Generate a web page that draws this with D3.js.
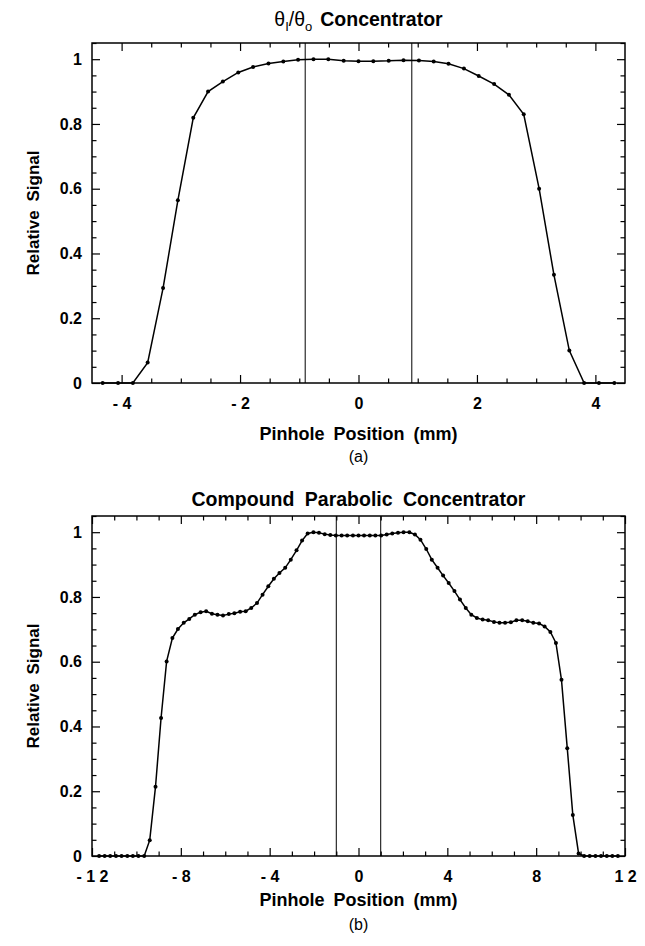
<!DOCTYPE html>
<html>
<head>
<meta charset="utf-8">
<script src="https://cdn.jsdelivr.net/npm/d3@7"></script>
<style>
  body { margin: 0; background: #fff; }
  svg { display: block; font-family: "Liberation Sans", Arial, Helvetica, sans-serif; }
  .tick text { font-weight: bold; white-space: pre; fill: #000; }
  .tick line { stroke: #000; stroke-width: 1.2; }
  .label { font-weight: bold; fill: #000; }
</style>
</head>
<body>
<div id="chart"></div>
<script>
// ---- (a) theta_i / theta_o concentrator ----
const concX = [-4.32, -4.06, -3.81, -3.56, -3.30, -3.05, -2.79, -2.54, -2.29, -2.03, -1.78, -1.52,
  -1.27, -1.02, -0.76, -0.51, -0.25, 0, 0.25, 0.51, 0.76, 1.02, 1.27, 1.52, 1.78, 2.03, 2.29,
  2.54, 2.79, 3.05, 3.30, 3.56, 3.81, 4.06, 4.32];
const concSignal = [0, 0, 0, 0.063, 0.293, 0.564, 0.819, 0.900, 0.931, 0.959, 0.976, 0.987,
  0.993, 0.998, 1.000, 1.000, 0.995, 0.994, 0.994, 0.995, 0.997, 0.996, 0.993, 0.986, 0.971,
  0.948, 0.923, 0.890, 0.830, 0.600, 0.334, 0.100, 0, 0, 0];
const concMarkers = [-0.9, 0.9];
const concMajorX = [-4, -2, 0, 2, 4];
const concMajorXLabels = ['- 4', '- 2', '0', '2', '4'];
const concMinorX = [-3.5, -3, -2.5, -1.5, -1, -0.5, 0.5, 1, 1.5, 2.5, 3, 3.5];

// ---- (b) compound parabolic concentrator ----
const cpcX = [-11.68, -11.43, -11.18, -10.92, -10.67, -10.41, -10.16, -9.91, -9.65, -9.40, -9.14,
  -8.89, -8.64, -8.38, -8.13, -7.87, -7.62, -7.37, -7.11, -6.86, -6.60, -6.35, -6.10, -5.84,
  -5.59, -5.33, -5.08, -4.83, -4.57, -4.32, -4.06, -3.81, -3.56, -3.30, -3.05, -2.79, -2.54,
  -2.29, -2.03, -1.78, -1.52, -1.27, -1.02, -0.76, -0.51, -0.25, 0, 0.25, 0.51, 0.76, 1.02,
  1.27, 1.52, 1.78, 2.03, 2.29, 2.54, 2.79, 3.05, 3.30, 3.56, 3.81, 4.06, 4.32, 4.57, 4.83,
  5.08, 5.33, 5.59, 5.84, 6.10, 6.35, 6.60, 6.86, 7.11, 7.37, 7.62, 7.87, 8.13, 8.38, 8.64,
  8.89, 9.14, 9.40, 9.65, 9.91, 10.16, 10.41, 10.67, 10.92, 11.18, 11.43, 11.68];
const cpcSignal = [0, 0, 0, 0, 0, 0, 0, 0, 0, 0.049, 0.214, 0.426, 0.601, 0.673, 0.701, 0.720,
  0.732, 0.745, 0.753, 0.756, 0.748, 0.745, 0.743, 0.747, 0.750, 0.754, 0.756, 0.766, 0.781,
  0.807, 0.833, 0.856, 0.874, 0.890, 0.915, 0.944, 0.974, 0.996, 1.000, 0.998, 0.994, 0.991,
  0.990, 0.990, 0.990, 0.990, 0.990, 0.990, 0.990, 0.990, 0.990, 0.993, 0.996, 0.998, 1.000,
  1.000, 0.993, 0.977, 0.948, 0.915, 0.890, 0.866, 0.843, 0.818, 0.792, 0.766, 0.745, 0.735,
  0.730, 0.728, 0.723, 0.720, 0.720, 0.722, 0.728, 0.728, 0.725, 0.720, 0.718, 0.709, 0.692,
  0.658, 0.544, 0.333, 0.127, 0.008, 0, 0, 0, 0, 0, 0, 0];
const cpcMarkers = [-1.0, 1.0];
const cpcMajorX = [-12, -8, -4, 0, 4, 8, 12];
const cpcMajorXLabels = ['- 1 2', '- 8', '- 4', '0', '4', '8', '1 2'];
const cpcMinorX = [-11, -10, -9, -7, -6, -5, -3, -2, -1, 1, 2, 3, 5, 6, 7, 9, 10, 11];

// shared y axis
const majorY = [0, 0.2, 0.4, 0.6, 0.8, 1];
const majorYLabels = ['0', '0.2', '0.4', '0.6', '0.8', '1'];
const minorY = [0.05, 0.1, 0.15, 0.25, 0.3, 0.35, 0.45, 0.5, 0.55, 0.65, 0.7, 0.75, 0.85, 0.9, 0.95, 1.05];

const W = 645, H = 946;
const left = 92, right = 625;

const svg = d3.select('#chart').append('svg')
  .attr('width', W).attr('height', H)
  .attr('viewBox', `0 0 ${W} ${H}`);
svg.append('rect').attr('width', W).attr('height', H).attr('fill', '#fff');

// minor + major inward ticks for one side of the frame
function axisPair(g, gen, scale, major, labels, minor, pos, showLabels, pad) {
  const a = g.append('g').attr('transform', pos);
  a.call(gen(scale).tickValues(minor).tickSize(-4.5).tickSizeOuter(0).tickFormat(''));
  const b = g.append('g').attr('transform', pos);
  b.call(gen(scale).tickValues(major).tickSize(-8).tickSizeOuter(0).tickPadding(pad)
    .tickFormat((d, i) => showLabels ? labels[i] : ''));
  a.select('.domain').remove();
  b.select('.domain').remove();
  b.selectAll('text')
    .attr('font-family', '"Liberation Sans", Arial, sans-serif')
    .attr('font-size', 16);
  return b;
}

function drawPanel(p) {
  const top = p.bottom - 340;
  const x = d3.scaleLinear(p.domainX, [left, right]);
  const y = d3.scaleLinear([0, 1.05], [p.bottom, top]);
  const g = svg.append('g');

  axisPair(g, d3.axisBottom, x, p.majorX, p.labelsX, p.minorX, `translate(0,${p.bottom})`, true, 15);
  axisPair(g, d3.axisTop, x, p.majorX, p.labelsX, p.minorX, `translate(0,${top})`, false, 0);
  axisPair(g, d3.axisLeft, y, majorY, majorYLabels, minorY, `translate(${left},0)`, true, 10);
  axisPair(g, d3.axisRight, y, majorY, majorYLabels, minorY, `translate(${right},0)`, false, 0);

  // frame
  g.append('rect')
    .attr('x', left).attr('y', top)
    .attr('width', right - left).attr('height', p.bottom - top)
    .attr('fill', 'none').attr('stroke', '#000').attr('stroke-width', 1.5);

  // aperture markers
  g.selectAll('.marker').data(p.markers).join('line')
    .attr('class', 'marker')
    .attr('x1', d => x(d)).attr('x2', d => x(d))
    .attr('y1', top).attr('y2', p.bottom)
    .attr('stroke', '#000').attr('stroke-width', 1);

  const pts = p.xs.map((v, i) => [v, p.ys[i]]);
  g.append('path').datum(pts)
    .attr('fill', 'none').attr('stroke', '#000').attr('stroke-width', 1.5)
    .attr('d', d3.line().x(d => x(d[0])).y(d => y(d[1])));
  g.selectAll('.pt').data(pts).join('circle')
    .attr('class', 'pt')
    .attr('cx', d => x(d[0])).attr('cy', d => y(d[1]))
    .attr('r', 2).attr('fill', '#000');

  const cx = (left + right) / 2;
  p.title(g.append('text').attr('class', 'label')
    .attr('x', cx).attr('y', top - p.titleGap)
    .attr('text-anchor', 'middle').attr('font-size', 19.5)
    .style('word-spacing', '5px'));

  g.append('text').attr('class', 'label')
    .attr('x', cx).attr('y', p.bottom + p.axisGap)
    .attr('text-anchor', 'middle').attr('font-size', 18)
    .style('word-spacing', '4px')
    .text('Pinhole Position (mm)');

  g.append('text')
    .attr('x', cx).attr('y', p.bottom + p.tagGap)
    .attr('text-anchor', 'middle').attr('font-size', 16)
    .text(p.tag);

  g.append('text').attr('class', 'label')
    .attr('transform', `translate(39,${(top + p.bottom) / 2})rotate(-90)`)
    .attr('text-anchor', 'middle').attr('font-size', 17)
    .style('word-spacing', '4px')
    .text('Relative Signal');
}

drawPanel({
  bottom: 383, domainX: [-4.5, 4.5],
  xs: concX, ys: concSignal, markers: concMarkers,
  majorX: concMajorX, labelsX: concMajorXLabels, minorX: concMinorX,
  titleGap: 17, axisGap: 57, tagGap: 79, tag: '(a)',
  title: t => {
    t.append('tspan').attr('font-weight', 'normal').text('θ');
    t.append('tspan').attr('font-weight', 'normal').attr('font-size', 13).attr('dy', 5).text('I');
    t.append('tspan').attr('font-weight', 'normal').attr('dy', -5).text('/θ');
    t.append('tspan').attr('font-weight', 'normal').attr('font-size', 13).attr('dy', 5).text('o');
    t.append('tspan').attr('dy', -5).attr('dx', 8).text('Concentrator');
  }
});

drawPanel({
  bottom: 856, domainX: [-12, 12],
  xs: cpcX, ys: cpcSignal, markers: cpcMarkers,
  majorX: cpcMajorX, labelsX: cpcMajorXLabels, minorX: cpcMinorX,
  titleGap: 10, axisGap: 50, tagGap: 74, tag: '(b)',
  title: t => t.text('Compound Parabolic Concentrator')
});
</script>
</body>
</html>
